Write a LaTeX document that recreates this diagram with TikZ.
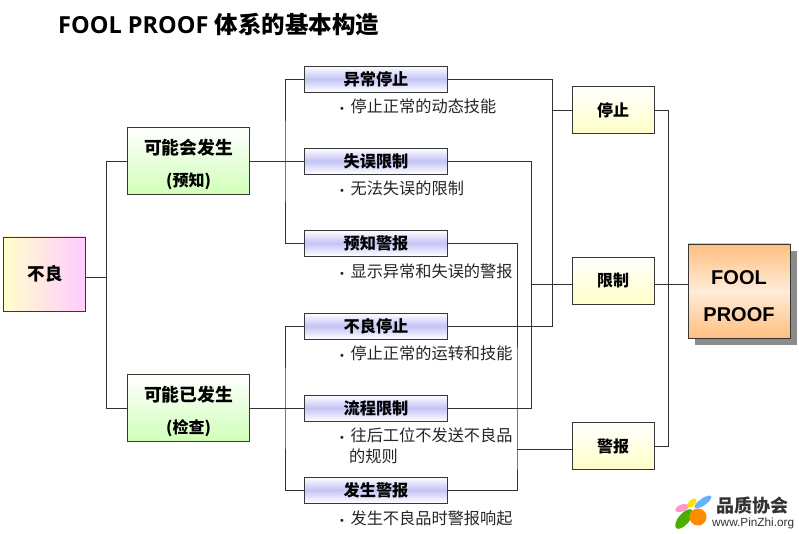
\documentclass[tikz,border=0pt]{standalone}
\usepackage{fontspec}
\setmainfont{Liberation Sans}
\newfontfamily\cjk{Noto Sans CJK SC}
\newfontfamily\titlefont{Open Sans}
\definecolor{linegray}{RGB}{50,50,50}
\definecolor{boxedge}{RGB}{55,55,55}
\definecolor{lav}{RGB}{196,196,246}
\newcommand{\bul}{\hspace{1pt}{\rmfamily\fontsize{11}{11}\selectfont •}\hspace{6.5pt}}
\tikzset{
 x=1pt,y=-1pt,
 base/.style={draw=boxedge,line width=0.9pt,inner sep=0pt,align=center,font=\cjk\bfseries,text=black},
 rootbox/.style={base,minimum width=81.5pt,minimum height=74pt,left color=yellow!20,right color=magenta!20,font=\cjk\bfseries\fontsize{17.5}{20}\selectfont},
 greenbox/.style={base,minimum width=122pt,minimum height=67pt,top color=white,bottom color=green!55!lime!28,font=\cjk\bfseries\fontsize{17.8}{32}\selectfont},
 bluebox/.style={base,minimum width=143pt,minimum height=26pt,top color=white,bottom color=white,middle color=lav,font=\cjk\bfseries\fontsize{16.2}{18}\selectfont},
 yellowbox/.style={base,minimum width=82pt,minimum height=47pt,top color=white,bottom color=yellow!22,font=\cjk\bfseries\fontsize{16}{18}\selectfont},
 foolbox/.style={base,minimum width=102pt,minimum height=94pt,top color=orange!50,bottom color=orange!50,middle color=white!85!orange,font=\fontsize{20}{37}\selectfont\bfseries},
 note/.style={anchor=west,inner sep=0pt,align=left,text=black!85,font=\cjk\fontsize{16.2}{21}\selectfont},
 link/.style={draw=linegray,line width=0.9pt,line join=miter},
}
\begin{document}
\begin{tikzpicture}
\useasboundingbox (0,0) rectangle (799,534);
\fill[white] (0,0) rectangle (799,534);
\node[anchor=west,inner sep=0pt,font=\titlefont\bfseries\fontsize{23.5}{26}\selectfont] (title) at (58,25) {FOOL PROOF {\cjk\bfseries 体系的基本构造}};

\node[rootbox] (root) at (44.25,274) {\hspace{2pt}不良};
\node[greenbox] (g1) at (188.5,161) {\rule{0pt}{23pt}可能会发生\\{\fontsize{16}{20}\selectfont (预知)}};
\node[greenbox] (g2) at (188.5,408) {\rule{0pt}{23pt}可能已发生\\{\fontsize{16}{20}\selectfont (检查)}};

\node[bluebox] (b1) at (376,79) {异常停止};
\node[bluebox] (b2) at (376,161) {失误限制};
\node[bluebox] (b3) at (376,243) {预知警报};
\node[bluebox] (b4) at (376,326) {不良停止};
\node[bluebox] (b5) at (376,408) {流程限制};
\node[bluebox] (b6) at (376,490) {发生警报};

\node[note] (n1) at (339,106) {\bul 停止正常的动态技能};
\node[note] (n2) at (339,188) {\bul 无法失误的限制};
\node[note] (n3) at (339,271) {\bul 显示异常和失误的警报};
\node[note] (n4) at (339,353) {\bul 停止正常的运转和技能};
\node[note] (n5) at (339,446) {\bul 往后工位不发送不良品\\\hspace*{10pt}的规则};
\node[note] (n6) at (339,518) {\bul 发生不良品时警报响起};

\node[yellowbox] (y1) at (613,110) {停止};
\node[yellowbox] (y2) at (613,281) {限制};
\node[yellowbox] (y3) at (613,446) {警报};

\fill[black!45] (695,251) rectangle (797,345);
\node[foolbox] (fp) at (739,291) {\rule{0pt}{25pt}FOOL\\PROOF};

% left tree
\coordinate (t0) at (106,277);
\draw[link] (root.east |- t0) -- (t0);
\draw[link] (g1.west) -| (t0);
\draw[link] (g2.west) -| (t0);
% upper branch
\draw[link] (g1.east) -- (b2.west);
\coordinate (t1) at (285,161);
\draw[link] (b1.west) -| (t1) |- (b3.west);
% lower branch
\draw[link] (g2.east) -- (b5.west);
\coordinate (t2) at (285,408);
\draw[link] (b4.west) -| (t2) |- (b6.west);
% collectors
\coordinate (c1) at (552,110);
\draw[link] (b1.east) -| (c1) |- (b4.east);
\draw[link] (c1) -- (y1.west);
\coordinate (c2) at (531,284);
\draw[link] (b2.east) -| (c2) |- (b5.east);
\draw[link] (c2) -- (c2 -| y2.west);
\coordinate (c3) at (517,449);
\draw[link] (b3.east) -| (c3) |- (b6.east);
\draw[link] (c3) -- (c3 -| y3.west);
% right tree
\coordinate (c4) at (668,284);
\draw[link] (y1.east) -| (c4) |- (c4 |- y3.east) -- (y3.east);
\draw[link] (c4 -| y2.east) -- (c4 -| fp.west);

% logo
\begin{scope}
\fill[green!55!black!70!yellow,rotate around={50:(684,519)}] (684,519) ellipse (12 and 5.5);
\fill[pink!80!magenta,rotate around={20:(682,508)}] (682,508) ellipse (7 and 3.5);
\fill[yellow!85!orange,rotate around={45:(692,503)}] (692,503) ellipse (6 and 3);
\fill[blue!50!cyan!60,rotate around={35:(703,502)}] (703,502) ellipse (10 and 3.5);
\fill[orange!90!yellow] (698,517) circle (8.5);
\end{scope}
\node[anchor=west,inner sep=0pt,font=\cjk\bfseries\fontsize{18}{20}\selectfont,text=black!80] (lg1) at (716,506) {品质协会};
\node[anchor=west,inner sep=0pt,font=\fontsize{11.8}{13}\selectfont,text=black!80] (lg2) at (712,523) {www.PinZhi.org};
\end{tikzpicture}
\end{document}
